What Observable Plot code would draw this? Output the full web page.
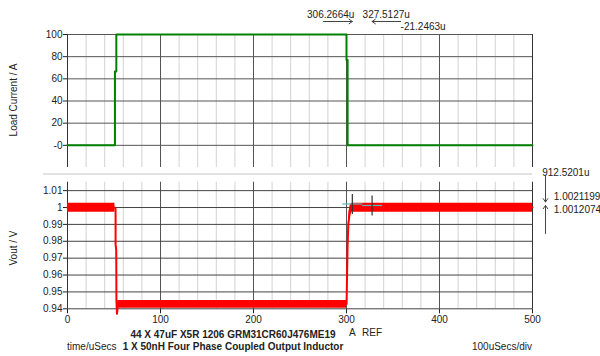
<!DOCTYPE html>
<html><head><meta charset="utf-8">
<script src="https://cdn.jsdelivr.net/npm/d3@7"></script>
<script src="https://cdn.jsdelivr.net/npm/@observablehq/plot@0.6"></script>
<style>
body{margin:0;background:#fff;}
#wrap{position:relative;width:600px;height:356px;font-family:"Liberation Sans",Arial,sans-serif;font-size:10px;color:#222;overflow:hidden;background:#fff}
.abs{position:absolute;white-space:nowrap;line-height:12px}
.rot{position:absolute;white-space:nowrap;transform:translate(-50%,-50%) rotate(-90deg);font-size:10px}
</style></head><body>
<div id="wrap">
  <div id="topPanel" class="abs" style="left:0;top:0"></div>
  <div class="abs" style="left:43px;top:173px;width:489px;height:2px;background:#e2e2e2"></div>
  <div id="botPanel" class="abs" style="left:0;top:175px"></div>
  <div class="rot" style="left:13px;top:100px">Load Current / A</div>
  <div class="rot" style="left:13px;top:248px">Vout / V</div>
  <div class="abs" style="left:83px;top:329px;width:300px;text-align:center;font-weight:bold">44 X 47uF X5R 1206 GRM31CR60J476ME19<br>1 X 50nH Four Phase Coupled Output Inductor</div>
  <div class="abs" style="left:67px;top:341px">time/uSecs</div>
  <div class="abs" style="left:432px;top:341px;width:100px;text-align:right">100uSecs/div</div>
</div>
<script>
// ---- data ----
const timeTicks = [0, 100, 200, 300, 400, 500];
const timeMinor = [20, 40, 60, 80, 120, 140, 160, 180, 220, 240, 260, 280, 320, 340, 360, 380, 420, 440, 460, 480];
const timeMajor = [100, 200, 300, 400];

const loadTicks = [0, 20, 40, 60, 80, 100];
const loadTickLabels = ["-0", "20", "40", "60", "80", "100"];
const loadT = [0, 51, 51, 52.5, 52.5, 300, 300, 301.2, 301.2, 500];
const loadA = [0, 0, 66.6, 66.6, 100, 100, 77, 77, 0, 0];

const voutTicks = [0.94, 0.95, 0.96, 0.97, 0.98, 0.99, 1.0, 1.01];
const voutTickLabels = ["0.94", "0.95", "0.96", "0.97", "0.98", "0.99", "1", "1.01"];
// centre trace of Vout
const voutT = [0, 51, 51.7, 51.7, 52.4, 52.6, 53.2, 53.6, 54, 300.1, 300.6, 301.2, 302, 303, 304.5, 306, 500];
const voutV = [1.0, 1.0, 0.999, 0.978, 0.975, 0.945, 0.937, 0.939, 0.9428, 0.9428, 0.96, 0.978, 0.99, 0.995, 0.999, 1.0, 1.0];
// ripple envelope (segment, time, low, high)
const rippleSeg = [0, 0, 1, 1, 2, 2, 2, 2, 2];
const rippleT = [0, 51, 54, 300.1, 301.2, 302.5, 304, 305.5, 500];
const rippleLo = [0.9972, 0.9972, 0.9403, 0.9403, 0.976, 0.99, 0.996, 0.9972, 0.9972];
const rippleHi = [1.0025, 1.0025, 0.9449, 0.9449, 0.98, 0.997, 1.0015, 1.0025, 1.0025];

// cursors
const cursorNames = ["A", "REF"];
const cursorTime = [306.2664, 327.5127];
const cursorValue = [1.0021199, 1.0012074];
const cursorTimeLabels = ["306.2664u", "327.5127u"];
const deltaTimeLabel = "-21.2463u";
const deltaValueLabel = "912.5201u";
const cursorValueLabels = ["1.0021199", "1.0012074"];

// ---- layout helpers ----
const font = {fontFamily: '"Liberation Sans", Arial, sans-serif', fontSize: "10px", color: "#222", overflow: "visible", background: "transparent"};
const pxT = 465 / 500;            // px per microsecond
const pxV = 126.6 / 0.075;        // px per volt

const loadData = loadT.map((t, i) => ({t, a: loadA[i]}));
const voutData = voutT.map((t, i) => ({t, v: voutV[i]}));
const rippleData = rippleT.map((t, i) => ({s: rippleSeg[i], t, lo: rippleLo[i], hi: rippleHi[i]}));
const cursors = cursorTime.map((t, i) => ({name: cursorNames[i], t, v: cursorValue[i], tl: cursorTimeLabels[i], vl: cursorValueLabels[i]}));
const cA = cursors[0], cR = cursors[1];

const topChart = Plot.plot({
  width: 600, height: 175,
  marginLeft: 67, marginRight: 68, marginTop: 34, marginBottom: 8,
  style: font,
  x: {domain: [0, 500], axis: null},
  y: {domain: [-20, 100], ticks: loadTicks, tickSize: 4, tickPadding: 1,
      tickFormat: d => loadTickLabels[loadTicks.indexOf(d)], label: null},
  marks: [
    Plot.ruleX(timeMinor, {y1: -20, y2: 100, stroke: "#d2d2d2"}),
    Plot.ruleX(timeMajor, {y1: -20, y2: 100, stroke: "#555"}),
    Plot.ruleY(loadTicks, {x1: 0, x2: 500, stroke: "#555"}),
    Plot.ruleX([0, 500], {y1: -20, y2: 100, stroke: "#333"}),
    Plot.line(loadData, {x: "t", y: "a", stroke: "#008000", strokeWidth: 2}),
    Plot.text([cA], {x: "t", text: "tl", frameAnchor: "top", dy: -24, dx: 2, textAnchor: "end", fill: "#222"}),
    Plot.text([cR], {x: "t", text: "tl", frameAnchor: "top", dy: -24, dx: -9.5, textAnchor: "start", fill: "#222"}),
    Plot.arrow([cA], {x1: d => d.t - 29 / pxT, x2: "t", y1: 100, y2: 100, dy: -13, stroke: "#444", strokeWidth: 1, headLength: 6, headAngle: 70}),
    Plot.arrow([cR], {x1: d => d.t + 28.5 / pxT, x2: "t", y1: 100, y2: 100, dy: -13, stroke: "#444", strokeWidth: 1, headLength: 6, headAngle: 70}),
    Plot.text([cR], {x: d => d.t + 28.5 / pxT, text: () => deltaTimeLabel, frameAnchor: "top", dy: -12, textAnchor: "start", fill: "#222"})
  ]
});
document.getElementById("topPanel").appendChild(topChart);

const botChart = Plot.plot({
  width: 600, height: 181,
  marginLeft: 67, marginRight: 68, marginTop: 6.7, marginBottom: 47.7,
  style: font,
  x: {domain: [0, 500], ticks: timeTicks, tickSize: 5, tickPadding: 2, label: null},
  y: {domain: [0.94, 1.015], ticks: voutTicks, tickSize: 4, tickPadding: 1,
      tickFormat: d => voutTickLabels[voutTicks.findIndex(v => Math.abs(v - d) < 1e-9)], label: null},
  marks: [
    Plot.ruleX(timeMinor, {y1: 0.94, y2: 1.015, stroke: "#d2d2d2"}),
    Plot.ruleX(timeMajor, {y1: 0.94, y2: 1.015, stroke: "#555"}),
    Plot.ruleY(voutTicks, {x1: 0, x2: 500, stroke: "#444"}),
    Plot.ruleX([0, 500], {y1: 0.94, y2: 1.015, stroke: "#333"}),
    Plot.areaY(rippleData, {x: "t", y1: "lo", y2: "hi", z: "s", fill: "#ff0000"}),
    Plot.line(voutData, {x: "t", y: "v", stroke: "#ff0000", strokeWidth: 2}),
    // cursor crosshairs
    Plot.link(cursors, {x1: d => d.t - 10 / pxT, x2: d => d.t + 10 / pxT, y1: "v", y2: "v", stroke: "#5fb8b8", strokeWidth: 1.2}),
    Plot.link(cursors, {x1: "t", x2: "t", y1: d => d.v - 10 / pxV, y2: d => d.v + 10 / pxV, stroke: "#333", strokeWidth: 1.2}),
    Plot.text(cursors, {x: "t", text: "name", frameAnchor: "bottom", dy: 26.7, textAnchor: "middle", fill: "#222"}),
    // right-hand delta annotation
    Plot.text([deltaValueLabel], {text: d => d, frameAnchor: "top-right", dx: 9.7, dy: -13.4, textAnchor: "start", fill: "#222"}),
    Plot.arrow([cA], {x1: 500, x2: 500, y1: d => d.v + 28.7 / pxV, y2: d => d.v + 2 / pxV, dx: 13, stroke: "#444", strokeWidth: 1, headLength: 6, headAngle: 70}),
    Plot.arrow([cR], {x1: 500, x2: 500, y1: d => d.v - 28 / pxV, y2: "v", dx: 13, stroke: "#444", strokeWidth: 1, headLength: 6, headAngle: 70}),
    Plot.text([cA], {y: "v", text: "vl", frameAnchor: "right", dx: 21.3, dy: -7, textAnchor: "start", fill: "#222"}),
    Plot.text([cR], {y: "v", text: "vl", frameAnchor: "right", dx: 21.3, dy: 4.7, textAnchor: "start", fill: "#222"})
  ]
});
document.getElementById("botPanel").appendChild(botChart);
</script>
</body></html>
